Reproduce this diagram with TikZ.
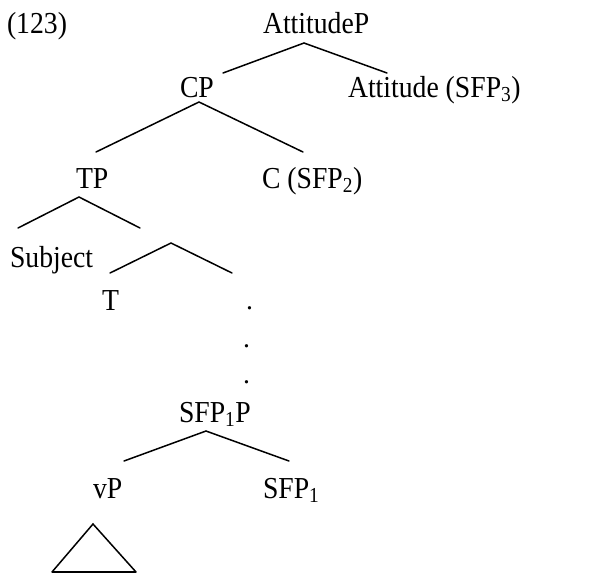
\documentclass[tikz,border=0pt]{standalone}
\usepackage{graphicx}
\usepackage{fontspec}
\setmainfont{Liberation Serif}
% labels are set slightly taller than the font's natural shape
\newcommand\tall[1]{\scalebox{1}[1.1]{#1}}
\begin{document}
\begin{tikzpicture}[x=1pt,y=-1pt,
  lbl/.style={anchor=base west,inner sep=0pt,outer sep=0pt,
    font=\fontsize{27.7}{33}\selectfont},
  branch/.style={line width=1.5pt,line cap=round}]
\useasboundingbox (0,0) rectangle (593,574);

% labels
\node[lbl] (ex)   at (7,33)    {\tall{(123)}};
\node[lbl] (attP) at (263,33)  {\tall{AttitudeP}};
\node[lbl] (cp)   at (180,97)  {\tall{CP}};
\node[lbl] (att)  at (348,97)  {\tall{Attitude (SFP\textsubscript{3})}};
\node[lbl] (tp)   at (76,188)  {\tall{TP}};
\node[lbl] (c)    at (262,188) {\tall{C (SFP\textsubscript{2})}};
\node[lbl] (subj) at (10,267)  {\tall{Subject}};
\node[lbl] (t)    at (102,310) {\tall{T}};
\node[lbl] (d1)   at (246,309) {.};
\node[lbl] (d2)   at (243,347) {.};
\node[lbl] (d3)   at (243,383) {.};
\node[lbl] (sfpP) at (179,422) {\tall{SFP\textsubscript{1}P}};
\node[lbl] (vp)   at (93,498)  {\tall{vP}};
\node[lbl] (sfp)  at (263,498) {\tall{SFP\textsubscript{1}}};

% branch points
\coordinate (attP-b) at (304,43);
\coordinate (cp-t)   at (223,73);
\coordinate (att-t)  at (387,73);
\coordinate (cp-b)   at (199,102);
\coordinate (tp-t)   at (96,152);
\coordinate (c-t)    at (303,152);
\coordinate (tp-b)   at (79,197);
\coordinate (subj-t) at (18,228);
\coordinate (tb-t)   at (140,228);
\coordinate (tb-b)   at (171,243);
\coordinate (t-t)    at (110,273);
\coordinate (dots-t) at (232,273);
\coordinate (sfpP-b) at (206,431);
\coordinate (vp-t)   at (124,461);
\coordinate (sfp-t)  at (289,461);
\coordinate (tri-a)  at (93,524);
\coordinate (tri-l)  at (52,572);
\coordinate (tri-r)  at (136,572);

% branches
\draw[branch] (cp-t) -- (attP-b) -- (att-t);
\draw[branch] (tp-t) -- (cp-b) -- (c-t);
\draw[branch] (subj-t) -- (tp-b) -- (tb-t);
\draw[branch] (t-t) -- (tb-b) -- (dots-t);
\draw[branch] (vp-t) -- (sfpP-b) -- (sfp-t);

% roof under vP
\draw[branch,line join=miter] (tri-l) -- (tri-a) -- (tri-r);
\draw[line width=2.5pt] (tri-l) -- (tri-r);
\end{tikzpicture}
\end{document}
